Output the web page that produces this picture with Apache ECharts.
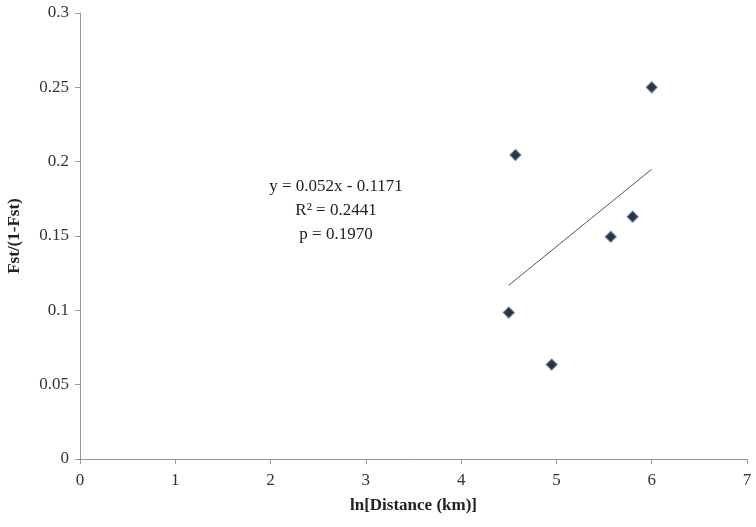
<!DOCTYPE html>
<html><head><meta charset="utf-8">
<script src="https://cdn.jsdelivr.net/npm/echarts@6/dist/echarts.min.js"></script>
<style>html,body{margin:0;padding:0;background:#fff}#c{width:756px;height:527px}</style>
</head><body><div id="c"></div>
<script>
const xValues = [6.00, 4.57, 5.80, 5.57, 4.50, 4.95];
const yValues = [0.250, 0.2045, 0.163, 0.1495, 0.0985, 0.0635];
const slope = 0.052, intercept = -0.1171;
const trendX = [4.50, 6.00];
const annotation = ['y = 0.052x - 0.1171', 'R\u00B2 = 0.2441', 'p = 0.1970'];
const xTitle = 'ln[Distance (km)]';
const yTitle = 'Fst/(1-Fst)';

const pts = xValues.map((x, i) => [x, yValues[i]]);
const trend = trendX.map(x => [x, +(slope * x + intercept).toFixed(4)]);
const font = '"Liberation Serif", "Times New Roman", serif';
const chart = echarts.init(document.getElementById('c'));
chart.setOption({
  animation: false,
  grid: { left: 80, right: 9, top: 13, bottom: 68, containLabel: false, outerBoundsMode: 'none' },
  xAxis: {
    type: 'value', min: 0, max: 7, interval: 1,
    name: xTitle, nameLocation: 'middle', nameGap: 38,
    nameTextStyle: { fontFamily: font, fontWeight: 'bold', fontSize: 17, color: '#222' },
    axisLine: { lineStyle: { color: '#999' } },
    axisTick: { show: true, length: 5, lineStyle: { color: '#999' } },
    axisLabel: { fontFamily: font, fontSize: 17, color: '#333', margin: 13 },
    splitLine: { show: false }
  },
  yAxis: {
    type: 'value', min: 0, max: 0.3, interval: 0.05,
    name: yTitle, nameLocation: 'middle', nameGap: 57, nameRotate: 90,
    nameTextStyle: { fontFamily: font, fontWeight: 'bold', fontSize: 17, color: '#222' },
    axisLine: { show: true, lineStyle: { color: '#999' } },
    axisTick: { show: true, length: 5, lineStyle: { color: '#999' } },
    axisLabel: { fontFamily: font, fontSize: 17, color: '#333', margin: 11,
      formatter: v => String(+v.toFixed(2)) },
    splitLine: { show: false }
  },
  series: [
    {
      type: 'line', data: trend, symbol: 'none',
      lineStyle: { color: '#555', width: 1 }, z: 1
    },
    {
      type: 'scatter', data: pts, symbol: 'diamond', symbolSize: 11,
      itemStyle: { color: '#000', borderColor: '#4a7ebb', borderWidth: 1.2 }, z: 3
    }
  ],
  graphic: annotation.map((t, i) => ({
    type: 'text', x: 336, y: 187 + i * 24,
    style: { text: t, fontFamily: font, fontSize: 17, fill: '#222',
      align: 'center', verticalAlign: 'middle' }
  }))
});
</script></body></html>
